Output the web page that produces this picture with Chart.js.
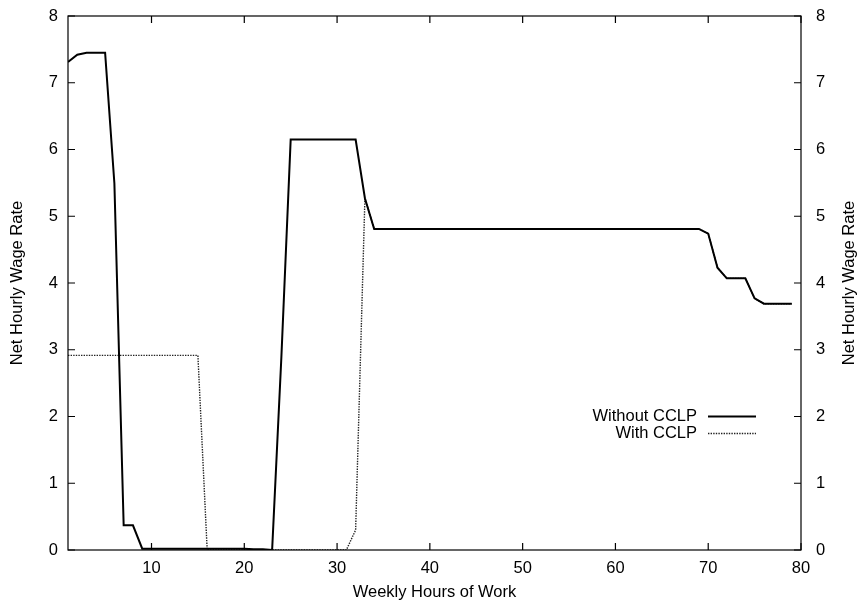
<!DOCTYPE html>
<html lang="en">
<head>
    <title>Net Hourly Wage Rate</title>
    <script src="https://cdn.jsdelivr.net/npm/chart.js@4.4.1/dist/chart.umd.min.js"></script>
    <style>
        html, body { margin: 0; padding: 0; background: #fff; }
        #wrap { width: 858px; height: 603px; }
    </style>
</head>
<body>
<div id="wrap"><canvas id="myChart"></canvas></div>
<script>
    // weekly hours 1..79
    var hours = [1, 2, 3, 4, 5, 6, 7, 8, 9, 10,
        11, 12, 13, 14, 15, 16, 17, 18, 19, 20,
        21, 22, 23, 24, 25, 26, 27, 28, 29, 30,
        31, 32, 33, 34, 35, 36, 37, 38, 39, 40,
        41, 42, 43, 44, 45, 46, 47, 48, 49, 50,
        51, 52, 53, 54, 55, 56, 57, 58, 59, 60,
        61, 62, 63, 64, 65, 66, 67, 68, 69, 70,
        71, 72, 73, 74, 75, 76, 77, 78, 79];

    var withoutCCLP = [7.31, 7.42, 7.45, 7.45, 7.45, 5.49, 0.37, 0.37, 0.02, 0.02,
        0.02, 0.02, 0.02, 0.02, 0.02, 0.02, 0.02, 0.02, 0.02, 0.02,
        0.01, 0.01, 0.00, 2.90, 6.15, 6.15, 6.15, 6.15, 6.15, 6.15,
        6.15, 6.15, 5.27, 4.81, 4.81, 4.81, 4.81, 4.81, 4.81, 4.81,
        4.81, 4.81, 4.81, 4.81, 4.81, 4.81, 4.81, 4.81, 4.81, 4.81,
        4.81, 4.81, 4.81, 4.81, 4.81, 4.81, 4.81, 4.81, 4.81, 4.81,
        4.81, 4.81, 4.81, 4.81, 4.81, 4.81, 4.81, 4.81, 4.81, 4.74,
        4.23, 4.07, 4.07, 4.07, 3.77, 3.69, 3.69, 3.69, 3.69];

    var withCCLP = [2.915, 2.915, 2.915, 2.915, 2.915, 2.915, 2.915, 2.915, 2.915, 2.915,
        2.915, 2.915, 2.915, 2.915, 2.915, 0, 0, 0, 0, 0,
        0, 0, 0, 0, 0, 0, 0, 0, 0, 0,
        0, 0.30, 5.27, 4.81, 4.81, 4.81, 4.81, 4.81, 4.81, 4.81,
        4.81, 4.81, 4.81, 4.81, 4.81, 4.81, 4.81, 4.81, 4.81, 4.81,
        4.81, 4.81, 4.81, 4.81, 4.81, 4.81, 4.81, 4.81, 4.81, 4.81,
        4.81, 4.81, 4.81, 4.81, 4.81, 4.81, 4.81, 4.81, 4.81, 4.74,
        4.23, 4.07, 4.07, 4.07, 3.77, 3.69, 3.69, 3.69, 3.69];

    var xTicks = [10, 20, 30, 40, 50, 60, 70, 80];
    var yTicks = [0, 1, 2, 3, 4, 5, 6, 7, 8];

    var FONT = "'Liberation Sans', Arial, sans-serif";
    var FSIZE = 16.5;
    Chart.defaults.font.family = FONT;
    Chart.defaults.font.size = FSIZE;
    Chart.defaults.color = '#000';

    function pts(ys) {
        return hours.map(function (h, i) { return {x: h, y: ys[i]}; });
    }

    // fixed axis boxes so the plot frame sits where we want it
    function fixWidth(w) {
        return function (s) {
            s.width = w;
            s.paddingTop = 0;
            s.paddingBottom = 0;
        };
    }

    // gnuplot-style frame with inward ticks on all four sides, right title and key
    var framePlugin = {
        id: 'frame',
        afterDraw: function (chart) {
            var ctx = chart.ctx, a = chart.chartArea;
            var xs = chart.scales.x, ys = chart.scales.y;
            var t = 7;
            ctx.save();
            ctx.strokeStyle = '#000';
            ctx.lineWidth = 1.2;
            ctx.strokeRect(a.left, a.top, a.right - a.left, a.bottom - a.top);
            ctx.beginPath();
            xTicks.forEach(function (v) {
                var px = xs.getPixelForValue(v);
                ctx.moveTo(px, a.bottom); ctx.lineTo(px, a.bottom - t);
                ctx.moveTo(px, a.top); ctx.lineTo(px, a.top + t);
            });
            yTicks.forEach(function (v) {
                var py = ys.getPixelForValue(v);
                ctx.moveTo(a.left, py); ctx.lineTo(a.left + t, py);
                ctx.moveTo(a.right, py); ctx.lineTo(a.right - t, py);
            });
            ctx.stroke();

            // right axis title, same reading direction as the left one
            ctx.font = FSIZE + 'px ' + FONT;
            ctx.fillStyle = '#000';
            ctx.textAlign = 'center';
            ctx.textBaseline = 'middle';
            ctx.translate(849, (a.top + a.bottom) / 2);
            ctx.rotate(-Math.PI / 2);
            ctx.fillText('Net Hourly Wage Rate', 0, 0);
            ctx.restore();

            // key
            ctx.save();
            ctx.font = FSIZE + 'px ' + FONT;
            ctx.textAlign = 'right';
            ctx.textBaseline = 'middle';
            chart.data.datasets.forEach(function (ds, i) {
                var y = 416.5 + i * 17;
                ctx.fillStyle = '#000';
                ctx.fillText(ds.label, 697, y);
                ctx.strokeStyle = ds.borderColor;
                ctx.lineWidth = ds.borderWidth;
                ctx.setLineDash(ds.borderDash || []);
                ctx.beginPath();
                ctx.moveTo(708, y);
                ctx.lineTo(756, y);
                ctx.stroke();
            });
            ctx.restore();
        }
    };

    new Chart('myChart', {
        type: 'line',
        data: {
            datasets: [
                {
                    label: 'Without CCLP',
                    data: pts(withoutCCLP),
                    borderColor: '#000',
                    borderWidth: 2,
                    pointRadius: 0,
                    fill: false,
                    tension: 0
                },
                {
                    label: 'With CCLP',
                    data: pts(withCCLP),
                    borderColor: '#222',
                    borderWidth: 1.4,
                    borderDash: [1.4, 1.2],
                    pointRadius: 0,
                    fill: false,
                    tension: 0
                }
            ]
        },
        options: {
            responsive: true,
            maintainAspectRatio: false,
            animation: false,
            layout: { padding: { top: 16, left: 0, right: 0, bottom: 0 } },
            plugins: {
                legend: { display: false },
                tooltip: { enabled: false }
            },
            scales: {
                x: {
                    type: 'linear',
                    min: 1,
                    max: 80,
                    grid: { display: false, drawTicks: false },
                    border: { display: false },
                    afterBuildTicks: function (s) {
                        s.ticks = xTicks.map(function (v) { return {value: v}; });
                    },
                    afterFit: function (s) {
                        s.height = 53;
                        s.paddingLeft = 0;
                        s.paddingRight = 0;
                    },
                    ticks: { padding: 9, maxRotation: 0, autoSkip: false },
                    title: {
                        display: true,
                        text: 'Weekly Hours of Work',
                        padding: { top: 0, bottom: 1 }
                    }
                },
                y: {
                    position: 'left',
                    min: 0,
                    max: 8,
                    grid: { display: false, drawTicks: false },
                    border: { display: false },
                    afterBuildTicks: function (s) {
                        s.ticks = yTicks.map(function (v) { return {value: v}; });
                    },
                    afterFit: fixWidth(68),
                    ticks: { padding: 10 },
                    title: {
                        display: true,
                        text: 'Net Hourly Wage Rate',
                        padding: { top: 8, bottom: 0 }
                    }
                },
                y2: {
                    position: 'right',
                    min: 0,
                    max: 8,
                    grid: { display: false, drawTicks: false },
                    border: { display: false },
                    afterBuildTicks: function (s) {
                        s.ticks = yTicks.map(function (v) { return {value: v}; });
                    },
                    afterFit: fixWidth(57),
                    ticks: { padding: 15 }
                }
            }
        },
        plugins: [framePlugin]
    });
</script>
</body>
</html>
